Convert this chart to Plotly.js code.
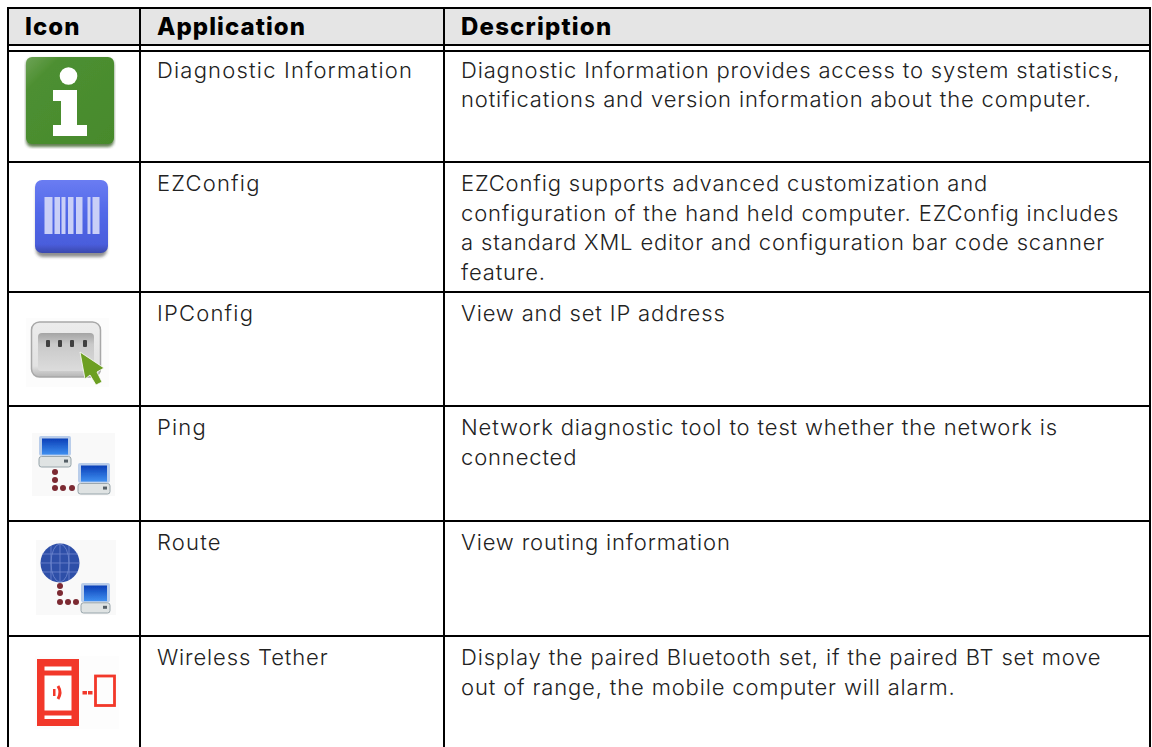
<!DOCTYPE html>
<html><head><meta charset="utf-8">
<script src="https://cdn.plot.ly/plotly-3.0.1.min.js"></script>
<style>html,body{margin:0;padding:0;background:#fff;overflow:hidden}#c{width:1152px;height:747px}
.annotation-text{letter-spacing:0.85px}
.annotation:nth-child(-n+3) .annotation-text{letter-spacing:1.05px}
.annotation:nth-child(n+4):nth-child(-n+9) .annotation-text{letter-spacing:1.2px}
</style>
</head><body><div id="c"></div>
<script>
// ---- content ----
const headers = ["Icon", "Application", "Description"];
const applications = ["Diagnostic Information", "EZConfig", "IPConfig", "Ping", "Route", "Wireless Tether"];
const descriptions = [
  ["Diagnostic Information provides access to system statistics,", "notifications and version information about the computer."],
  ["EZConfig supports advanced customization and", "configuration of the hand held computer. EZConfig includes", "a standard XML editor and configuration bar code scanner", "feature."],
  ["View and set IP address"],
  ["Network diagnostic tool to test whether the network is", "connected"],
  ["View routing information"],
  ["Display the paired Bluetooth set, if the paired BT set move", "out of range, the mobile computer will alarm."]
];
// ---- table geometry ----
const colEdges = [8, 140, 444, 1150];
const textX = [25, 157, 461];
const ruleY = [8, 45, 51, 162, 292, 406, 521, 636];
const rowFirstLine = [69.5, 183, 313, 427, 542, 657];
const lineStep = 29.6;
const headerY = 26;

// ---- icons (SVG pictures) ----
const svg = (w, h, body, defs) => 'data:image/svg+xml;utf8,' + encodeURIComponent(
  `<svg xmlns="http://www.w3.org/2000/svg" width="${w}" height="${h}" viewBox="0 0 ${w} ${h}"><defs><filter id="b" x="-20%" y="-20%" width="140%" height="140%"><feGaussianBlur stdDeviation="0.6"/></filter><filter id="s" x="-20%" y="-20%" width="140%" height="140%"><feGaussianBlur stdDeviation="1.5"/></filter>${defs||''}</defs><g filter="url(#b)">${body}</g></svg>`);

const monitor = (x, y, w, h) => `<rect x="${x}" y="${y}" width="${w}" height="${h*0.64}" rx="2" fill="#b9cdea"/>
 <rect x="${x+3}" y="${y+2.5}" width="${w-6}" height="${h*0.52}" fill="url(#scr)"/>
 <rect x="${x}" y="${y+h*0.66}" width="${w}" height="${h*0.34}" rx="2.5" fill="#dfe3e3" stroke="#97a4aa" stroke-width="1"/>
 <rect x="${x+w-7}" y="${y+h*0.76}" width="4" height="3" fill="#555f66"/>`;
const dots = pts => pts.map(p => `<circle cx="${p[0]}" cy="${p[1]}" r="3" fill="#7c2a33"/>`).join('');
const scr = '<linearGradient id="scr" x1="0" y1="0" x2="0" y2="1"><stop offset="0" stop-color="#0b3fb8"/><stop offset="1" stop-color="#3f8ff0"/></linearGradient>';

const icons = [
 {x:24,y:55,w:92,h:94, src: svg(92,94,
  `<rect x="2" y="4" width="88" height="88" rx="6" fill="#3a5f28" filter="url(#s)" opacity="0.8"/>
   <rect x="2" y="2" width="88" height="87" rx="6" fill="url(#g)"/>
   <circle cx="44.5" cy="21" r="8.8" fill="#fff"/>
   <path d="M29 35H53V70H63V81H29V70H37V46H29Z" fill="#fff"/>`,
  '<linearGradient id="g" x1="0" y1="0" x2="1" y2="1"><stop offset="0" stop-color="#6ea356"/><stop offset="0.2" stop-color="#4d8f31"/><stop offset="1" stop-color="#478a2c"/></linearGradient>')},
 {x:32,y:177,w:80,h:84, src: svg(80,84,
  `<rect x="4" y="6" width="71" height="74" rx="7" fill="#555" filter="url(#s)" opacity="0.65"/>
   <rect x="3" y="3" width="73" height="73" rx="7" fill="url(#g)"/>
   <g fill="#c9cff7"><rect x="12.500" y="20" width="8" height="37"/><rect x="22.500" y="20" width="5.500" height="37"/><rect x="29.500" y="20" width="4" height="37"/><rect x="36" y="20" width="5.500" height="37"/><rect x="44" y="20" width="6.500" height="37"/><rect x="55.500" y="20" width="3" height="37"/><rect x="60.500" y="20" width="7" height="37"/></g>`,
  '<linearGradient id="g" x1="0" y1="0" x2="0" y2="1"><stop offset="0" stop-color="#6a7cf2"/><stop offset="0.45" stop-color="#5168e8"/><stop offset="0.88" stop-color="#4a5ddc"/><stop offset="1" stop-color="#3a49ad"/></linearGradient>')},
 {x:26,y:318,w:83,h:69, src: svg(83,69,
  `<rect width="83" height="69" fill="#fcfcfc"/>
   <rect x="5.500" y="4" width="69" height="55" rx="8" fill="url(#o)" stroke="#a8a8a8" stroke-width="1.500"/>
   <path d="M12 19a4 4 0 0 1 4-4H64a4 4 0 0 1 4 4V50a3 3 0 0 1-3 3H15a3 3 0 0 1-3-3Z" fill="url(#g)"/>
   <g fill="#3f3f3f"><rect x="20" y="22" width="4" height="7" rx="1"/><rect x="32" y="22" width="4" height="7" rx="1"/><rect x="44" y="22" width="4" height="7" rx="1"/><rect x="57" y="22" width="4" height="7" rx="1"/></g>
   <path d="M54 34L78 50L71 54L76 64L70 67L64 57L59 61Z" fill="#6c9f22" stroke="#fff" stroke-width="0.800"/>`,
  '<linearGradient id="g" x1="0" y1="0" x2="0" y2="1"><stop offset="0" stop-color="#a4a4a4"/><stop offset="0.3" stop-color="#c9c9c9"/><stop offset="1" stop-color="#dcdcdc"/></linearGradient><linearGradient id="o" x1="0" y1="0" x2="0" y2="1"><stop offset="0" stop-color="#ececec"/><stop offset="0.8" stop-color="#e2e2e2"/><stop offset="1" stop-color="#b5b5b5"/></linearGradient>')},
 {x:32,y:433,w:83,h:63, src: svg(83,63,
  `<rect width="83" height="63" fill="#f9f9f9"/>` + monitor(7,3,32,31) + monitor(46,30,32,31) +
   dots([[23,39],[23,47],[23,55],[31,55],[40,55]]), scr)},
 {x:36,y:540,w:80,h:75, src: svg(80,75,
  `<rect width="80" height="75" fill="#f9f9f9"/>
   <circle cx="24" cy="23" r="19.500" fill="#2f4fa8"/>
   <g stroke="#7f95d8" stroke-width="0.800" fill="none" opacity="0.8"><ellipse cx="24" cy="23" rx="9" ry="19"/><path d="M24 4V42M6 14H42M4.500 23H43.500M6 32H42M15 6V40M33 6V40"/></g>` +
   monitor(45,43,29,30) + dots([[24,46],[24,53],[24,62],[32,62],[40,62]]), scr)},
 {x:35,y:656,w:84,h:73, src: svg(84,73,
  `<rect width="84" height="73" fill="#fdfdfd"/>
   <rect x="2" y="3" width="42" height="67" fill="#f2382a"/>
   <rect x="9.500" y="10.500" width="27" height="4" fill="#fff"/><rect x="9.500" y="19.500" width="27" height="35" fill="#fff"/><rect x="9.500" y="59.500" width="27" height="3.500" fill="#fff"/>
   <rect x="18" y="33" width="2.500" height="7" fill="#f2382a"/>
   <path d="M23 30Q27 36.500 23 43" fill="none" stroke="#f2382a" stroke-width="3"/>
   <rect x="47.500" y="35" width="4.500" height="3.500" fill="#f2382a"/><rect x="53" y="35" width="4.500" height="3.500" fill="#f2382a"/>
   <rect x="60.500" y="20" width="19" height="29.500" fill="none" stroke="#f2382a" stroke-width="2.800"/>`)}
];

// ---- assemble ----
const bodyFont = {family:"Inter, sans-serif", size:22, color:"#222", weight:300};
const headFont = {family:"Inter, sans-serif", size:24, color:"#000", weight:800};
const label = (x, y, text, font) => ({x, y, text, font, xref:'x', yref:'y', showarrow:false, xanchor:'left', yanchor:'middle', align:'left', borderpad:0, borderwidth:0});

const annotations = [];
headers.forEach((h,i) => annotations.push(label(textX[i], headerY, h, headFont)));
applications.forEach((a,i) => annotations.push(label(textX[1], rowFirstLine[i], a, bodyFont)));
descriptions.forEach((lines,i) => lines.forEach((t,j) => annotations.push(label(textX[2], rowFirstLine[i]+j*lineStep, t, bodyFont))));

const rule = (x0,y0,x1,y1) => ({type:'line', xref:'x', yref:'y', x0,y0,x1,y1, line:{color:'#000', width:2}, layer:'above'});
const shapes = [
  {type:'rect', xref:'x', yref:'y', x0:colEdges[0], x1:colEdges[3], y0:ruleY[0], y1:ruleY[1], fillcolor:'#e5e5e5', line:{width:0}, layer:'below'}
];
ruleY.forEach(y => shapes.push(rule(colEdges[0]-1, y, colEdges[3]+1, y)));
colEdges.forEach(x => shapes.push(rule(x, ruleY[0]-1, x, 747)));

const images = icons.map(c => ({source:c.src, xref:'x', yref:'y', x:c.x, y:c.y, sizex:c.w, sizey:c.h, sizing:'stretch', xanchor:'left', yanchor:'top', layer:'above'}));

Plotly.newPlot('c', [{type:'scatter', x:[], y:[], hoverinfo:'skip'}], {
  width:1152, height:747, margin:{l:0,r:0,t:0,b:0}, showlegend:false,
  paper_bgcolor:'#fff', plot_bgcolor:'#fff',
  xaxis:{range:[0,1152], visible:false, fixedrange:true},
  yaxis:{range:[747,0], visible:false, fixedrange:true},
  annotations, shapes, images
}, {displayModeBar:false, staticPlot:true});
</script></body></html>
